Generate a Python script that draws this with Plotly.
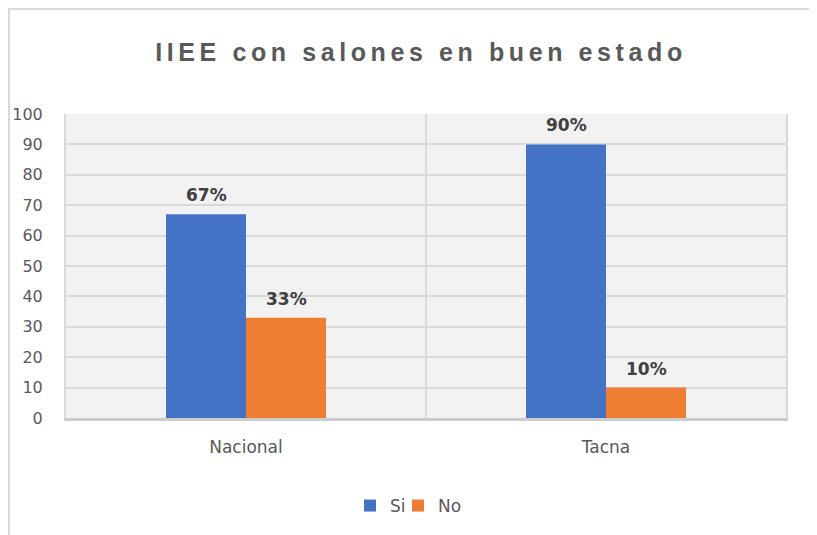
import plotly.graph_objects as go

categories = ["Nacional", "Tacna"]
si_values = [67, 90]
no_values = [33, 10]
series_names = ["Si", "No"]
y_ticks = [0, 10, 20, 30, 40, 50, 60, 70, 80, 90, 100]

OFF = 8  # page body margin
W, H = 817 - OFF, 535 - OFF
L, T = 66 - OFF, 114 - OFF
PW, PH = 720, 304
R = W - L - PW
B = H - T - PH

BLUE = "#4472C4"
ORANGE = "#ED7D31"
GRID = "#D9D9D9"
TXT = "#595959"
FONT = "DejaVu Sans"

fig = go.Figure()
fig.add_trace(go.Bar(x=categories, y=si_values, name=series_names[0],
                     legend="legend",
                     marker=dict(color=BLUE, line=dict(width=0))))
fig.add_trace(go.Bar(x=categories, y=no_values, name=series_names[1],
                     legend="legend2",
                     marker=dict(color=ORANGE, line=dict(width=0))))

# data labels
for vals, shift in ((si_values, -40), (no_values, 40)):
    for c, v in zip(categories, vals):
        fig.add_annotation(x=c, y=v, text=f"<b>{v}%</b>", showarrow=False,
                           xshift=shift, yshift=19, yanchor="middle",
                           font=dict(family=FONT, size=17, color="#404040"))

def px_x(p):  # page pixel -> paper x
    return (p - OFF - L) / PW
def px_y(p):  # page pixel -> paper y
    return (OFF + T + PH - p) / PH

# outer chart frame (left and top edges visible)
fig.add_shape(type="line", xref="paper", yref="paper",
              x0=px_x(9), x1=px_x(9), y0=px_y(9), y1=px_y(545),
              line=dict(color=GRID, width=2))
fig.add_shape(type="line", xref="paper", yref="paper",
              x0=px_x(8), x1=px_x(825), y0=px_y(9), y1=px_y(9),
              line=dict(color=GRID, width=2))

leg_common = dict(orientation="h", xanchor="left", yanchor="middle",
                  y=px_y(506), font=dict(family=FONT, size=17, color=TXT),
                  itemwidth=30, bgcolor="rgba(0,0,0,0)")

fig.update_layout(
    width=W, height=H,
    margin=dict(l=L, r=R, t=T, b=B, autoexpand=False),
    paper_bgcolor="white",
    plot_bgcolor="#F2F2F2",
    barmode="group",
    bargap=200 / 360,
    bargroupgap=0,
    title=dict(
        text='<span style="letter-spacing:4.6px"><b>IIEE con salones en buen estado</b></span>',
        x=(421 - OFF) / W, xref="container", xanchor="center",
        y=1 - (52 - OFF) / H, yref="container", yanchor="middle",
        font=dict(family="Liberation Sans", size=25, color=TXT),
    ),
    showlegend=True,
    legend=dict(x=px_x(350), **leg_common),
    legend2=dict(x=px_x(398), **leg_common),
    xaxis=dict(
        type="category", tickson="boundaries", showgrid=True,
        gridcolor=GRID, gridwidth=2, automargin=False,
        showline=True, linecolor="#CCCCCC", linewidth=2.5, mirror=False,
        ticks="", ticklabelstandoff=12,
        tickfont=dict(family=FONT, size=17, color=TXT),
    ),
    yaxis=dict(
        range=[0, 100], tickvals=y_ticks, showgrid=True,
        gridcolor=GRID, gridwidth=1.5, zeroline=False, automargin=False,
        showline=True, linecolor=GRID, linewidth=2, mirror=True,
        ticks="", ticklabelstandoff=18,
        tickfont=dict(family=FONT, size=16, color=TXT),
    ),
)

fig.write_html("out.html")
